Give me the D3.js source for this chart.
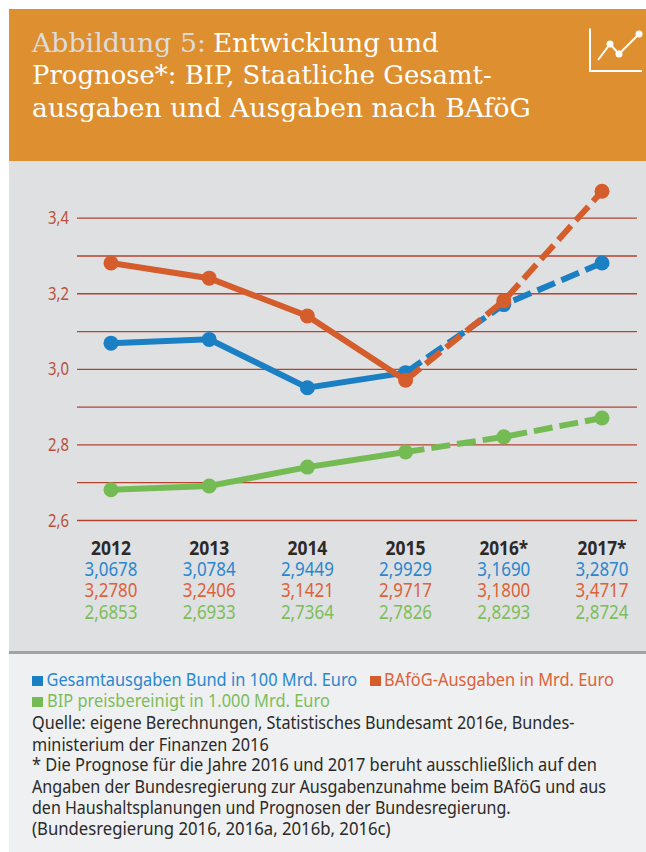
<!DOCTYPE html>
<html>
<head>
<meta charset="utf-8">
<script src="https://cdn.jsdelivr.net/npm/d3@7"></script>
<style>
  html, body { margin: 0; padding: 0; background: #fff; }
  svg { display: block; }
  .body { font-family: "Noto Sans", sans-serif; }
  .title { font-family: "DejaVu Serif", serif; }
</style>
</head>
<body>
<script>
const years = ['2012', '2013', '2014', '2015', '2016*', '2017*'];

// plotted values (rounded, as drawn in the picture)
const bund = [3.068, 3.078, 2.95, 2.99, 3.17, 3.28];
const bafoeg = [3.28, 3.24, 3.14, 2.97, 3.18, 3.47];
const bip = [2.68, 2.69, 2.74, 2.78, 2.82, 2.87];

// values printed under the chart
const bundLabels = ['3,0678', '3,0784', '2,9449', '2,9929', '3,1690', '3,2870'];
const bafoegLabels = ['3,2780', '3,2406', '3,1421', '2,9717', '3,1800', '3,4717'];
const bipLabels = ['2,6853', '2,6933', '2,7364', '2,7826', '2,8293', '2,8724'];

const gridTicks = [2.6, 2.7, 2.8, 2.9, 3.0, 3.1, 3.2, 3.3, 3.4];
const labelTicks = [2.6, 2.8, 3.0, 3.2, 3.4];

const blue = '#1b7fc4', orange = '#d55c2b', green = '#75bb54';
const blueText = '#2a87cf', orangeText = '#dd6238', greenText = '#7dbd5a';
const gridColor = '#b5432f', labelColor = '#b8503c', ink = '#2b2a29';

const svgWidth = 646, svgHeight = 852;
const svg = d3.select('body')
  .append('svg')
  .attr('width', svgWidth)
  .attr('height', svgHeight);

// the source font is condensed, so squeeze each text to its width in the picture
function squeeze(sel, x, y, width) {
  const natural = sel.node().getComputedTextLength();
  sel.attr('transform', `translate(${x}, ${y}) scale(${width / natural}, 1)`);
}

function addText(x, y, str, width, cls, fill, size) {
  const t = svg.append('text')
    .attr('class', cls)
    .attr('fill', fill)
    .attr('font-size', size)
    .text(str);
  squeeze(t, x, y, width);
  return t;
}

// panels
svg.append('rect').attr('x', 9).attr('y', 9).attr('width', 637).attr('height', 152).attr('fill', '#de8f30');
svg.append('rect').attr('x', 9).attr('y', 161).attr('width', 637).attr('height', 491).attr('fill', '#dfe0e2');
svg.append('rect').attr('x', 9).attr('y', 651).attr('width', 637).attr('height', 3).attr('fill', '#a0a2a4');
svg.append('rect').attr('x', 9).attr('y', 654).attr('width', 637).attr('height', 198).attr('fill', '#eef0f1');

// title
addText(32, 52, 'Abbildung 5:', 174, 'title', '#dcdcdc', 26);
addText(213, 52, 'Entwicklung und', 226, 'title', '#fff', 26);
addText(32, 84, 'Prognose*: BIP, Staatliche Gesamt-', 460, 'title', '#fff', 26);
addText(32, 117, 'ausgaben und Ausgaben nach BAföG', 499, 'title', '#fff', 26);

// icon
const icon = svg.append('g').attr('fill', 'none').attr('stroke', '#fff').attr('stroke-width', 2);
icon.append('path').attr('d', 'M590,28.5V71H642');
icon.append('path').attr('d', 'M598,60L610,44L619,54L639,34');
icon.selectAll('circle')
  .data([[610, 44], [619, 54], [639, 34]])
  .enter()
  .append('circle')
  .attr('cx', d => d[0])
  .attr('cy', d => d[1])
  .attr('r', 3.5)
  .attr('fill', '#fff')
  .attr('stroke', 'none');

// chart
const x = d3.scalePoint().domain(years).range([111, 602]);
const y = d3.scaleLinear().domain([2.6, 3.4]).range([520, 217.7]);

const yAxis = svg.append('g')
  .attr('transform', 'translate(77, 0)')
  .call(d3.axisLeft(y)
    .tickValues(gridTicks)
    .tickSize(-560)
    .tickFormat(d => labelTicks.includes(d) ? d3.format('.1f')(d).replace('.', ',') : ''));
yAxis.select('.domain').remove();
yAxis.selectAll('line').attr('stroke', gridColor).attr('stroke-width', 1.3);
yAxis.selectAll('text')
  .attr('class', 'body')
  .attr('fill', labelColor)
  .attr('font-size', 18)
  .attr('x', 0)
  .attr('dy', 0)
  .attr('text-anchor', 'start')
  .each(function(d) {
    // each tick group is already moved to its y
    if (labelTicks.includes(d)) squeeze(d3.select(this), -29, 6, 21);
  });

const line = d3.line()
  .x((d, i) => x(years[i]))
  .y(d => y(d))
  .defined(d => d !== null);

// solid up to 2015, dashed for the forecast
function drawSeries(values, color) {
  svg.append('path')
    .datum(values.map((d, i) => i <= 3 ? d : null))
    .attr('fill', 'none')
    .attr('stroke', color)
    .attr('stroke-width', 6)
    .attr('d', line);
  svg.append('path')
    .datum(values.map((d, i) => i >= 3 ? d : null))
    .attr('fill', 'none')
    .attr('stroke', color)
    .attr('stroke-width', 6)
    .attr('stroke-dasharray', '19 7')
    .attr('d', line);
  svg.append('g')
    .selectAll('circle')
    .data(values)
    .enter()
    .append('circle')
    .attr('cx', (d, i) => x(years[i]))
    .attr('cy', d => y(d))
    .attr('r', 7.5)
    .attr('fill', color);
}

drawSeries(bip, green);
drawSeries(bund, blue);
drawSeries(bafoeg, orange);

// table under the chart
function drawRow(labels, baseline, color, widths, weight) {
  svg.append('g')
    .selectAll('text')
    .data(labels)
    .enter()
    .append('text')
    .attr('class', 'body')
    .attr('font-size', 19.5)
    .attr('font-weight', weight)
    .attr('fill', color)
    .text(d => d)
    .each(function(d, i) {
      const w = d.length === 5 ? widths * 1.22 : widths;
      squeeze(d3.select(this), x(years[i]) - w / 2, baseline, w);
    });
}

drawRow(years, 555, ink, 40, 'bold');
drawRow(bundLabels, 576, blueText, 53, 'normal');
drawRow(bafoegLabels, 597, orangeText, 53, 'normal');
drawRow(bipLabels, 618.5, greenText, 53, 'normal');

// legend
svg.append('rect').attr('x', 32).attr('y', 676).attr('width', 11).attr('height', 10).attr('fill', blue);
addText(46.5, 686, 'Gesamtausgaben Bund in 100 Mrd. Euro', 311, 'body', blueText, 18);
svg.append('rect').attr('x', 370).attr('y', 676).attr('width', 11).attr('height', 10).attr('fill', orange);
addText(384, 686, 'BAföG-Ausgaben in Mrd. Euro', 230, 'body', orangeText, 18);
svg.append('rect').attr('x', 32).attr('y', 697).attr('width', 11).attr('height', 10).attr('fill', green);
addText(47, 707, 'BIP preisbereinigt in 1.000 Mrd. Euro', 283, 'body', greenText, 18);

// source notes
addText(32, 729, 'Quelle: eigene Berechnungen, Statistisches Bundesamt 2016e, Bundes-', 543, 'body', ink, 18);
addText(32, 751, 'ministerium der Finanzen 2016', 237, 'body', ink, 18);
addText(32, 771, '* Die Prognose für die Jahre 2016 und 2017 beruht ausschließlich auf den', 565, 'body', ink, 18);
addText(32, 793, 'Angaben der Bundesregierung zur Ausgabenzunahme beim BAföG und aus', 574.5, 'body', ink, 18);
addText(32, 814, 'den Haushaltsplanungen und Prognosen der Bundesregierung.', 479, 'body', ink, 18);
addText(32, 835, '(Bundesregierung 2016, 2016a, 2016b, 2016c)', 359, 'body', ink, 18);
</script>
</body>
</html>
